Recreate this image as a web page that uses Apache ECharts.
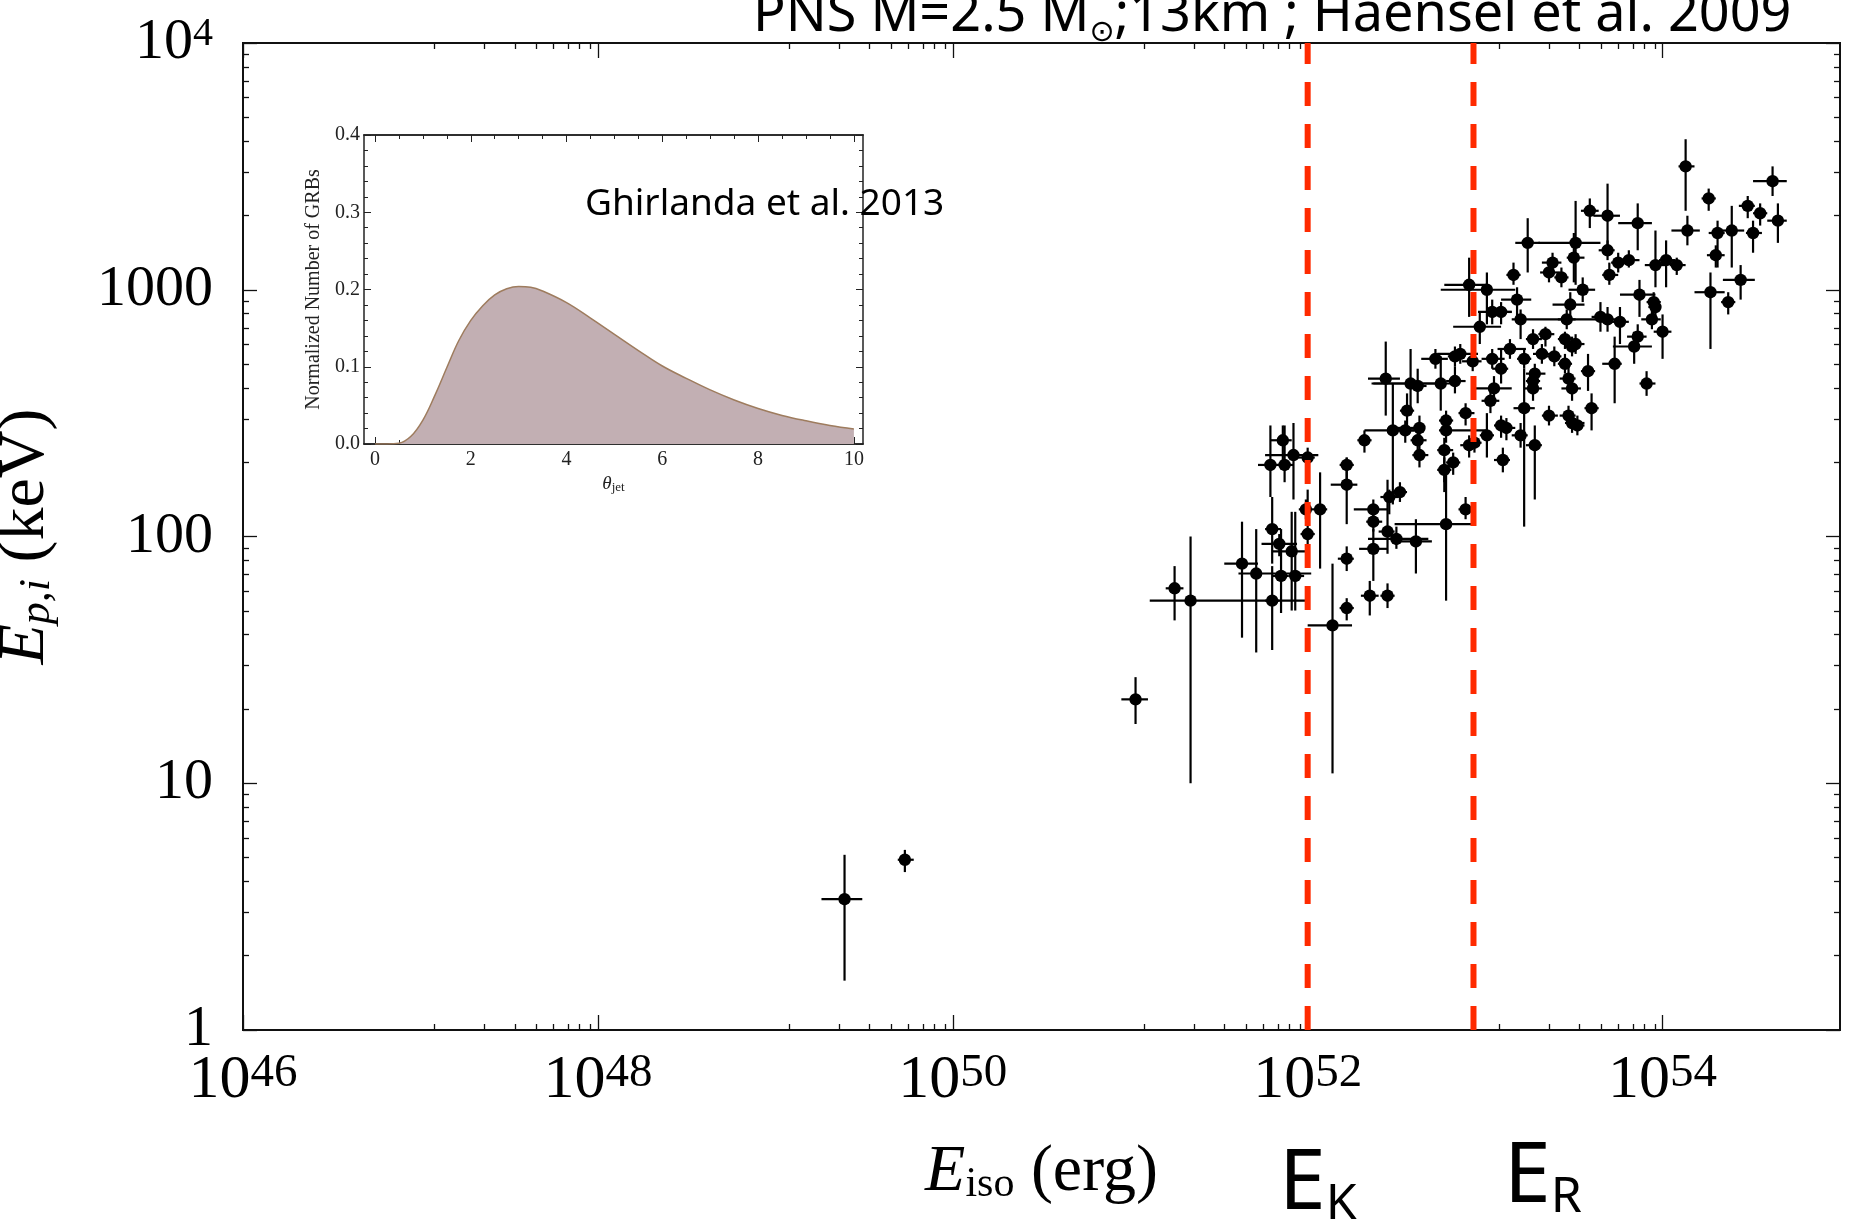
<!DOCTYPE html>
<html><head><meta charset="utf-8">
<script src="https://cdn.jsdelivr.net/npm/echarts@6/dist/echarts.min.js"></script>
<style>html,body{margin:0;padding:0;background:#fff}#c{width:1857px;height:1225px}</style>
</head><body><div id="c"></div>
<script>
// ---- GRB data (log10 values) ----
const logEiso = [54.13,54.62,54.26,54.48,54.55,54.65,53.59,53.69,53.86,54.14,
 54.31,54.39,54.51,53.24,53.51,53.69,54.30,53.38,53.50,53.75,
 53.81,53.96,54.02,54.08,53.16,53.36,53.43,53.70,54.44,52.91,
 53.01,53.18,53.55,53.48,54.27,54.37,53.87,53.95,53.96,53.04,
 53.09,53.20,53.46,53.65,53.69,53.76,53.94,52.97,54.00,53.86,
 53.84,53.27,53.34,53.45,53.51,53.49,53.14,52.86,53.32,53.39,
 52.72,52.93,53.04,53.58,53.73,53.09,53.28,53.27,52.44,52.58,
 52.62,52.75,52.83,53.91,53.05,53.27,53.47,53.49,53.22,53.36,
 53.47,53.49,53.52,53.60,53.03,52.56,52.89,52.78,52.32,52.48,
 52.55,52.63,52.78,53.01,53.09,53.12,53.20,52.62,52.63,52.77,
 52.82,52.77,52.91,53.10,53.28,51.86,51.79,51.87,51.92,52.00,
 52.22,52.22,51.99,52.07,51.80,52.00,51.84,51.91,52.37,52.46,
 52.52,52.37,52.45,52.50,52.61,52.78,52.89,52.37,52.22,51.63,
 51.71,51.80,51.85,51.93,52.35,52.45,52.22,52.14,51.25,51.34,
 51.03,49.39,49.73,53.22,53.45,52.94,52.83];
const logEp = [3.50,3.44,3.37,3.34,3.31,3.28,3.32,3.30,3.27,3.24,
 3.23,3.24,3.23,3.19,3.19,3.16,3.14,3.11,3.13,3.11,
 3.12,3.10,3.12,3.10,3.06,3.07,3.05,3.06,3.04,3.02,
 3.00,2.96,3.00,2.94,2.99,2.95,2.98,2.95,2.93,2.91,
 2.91,2.88,2.88,2.89,2.88,2.87,2.88,2.85,2.83,2.81,
 2.77,2.80,2.82,2.80,2.78,2.77,2.76,2.74,2.74,2.73,
 2.72,2.71,2.72,2.67,2.70,2.68,2.66,2.63,2.64,2.62,
 2.61,2.62,2.63,2.62,2.60,2.60,2.64,2.60,2.52,2.49,
 2.49,2.46,2.45,2.52,2.55,2.51,2.50,2.47,2.39,2.43,
 2.43,2.44,2.43,2.41,2.45,2.44,2.41,2.39,2.33,2.35,
 2.30,2.27,2.37,2.31,2.37,2.39,2.29,2.29,2.33,2.32,
 2.29,2.21,2.11,2.11,2.03,2.01,1.97,1.94,2.11,2.16,
 2.18,2.06,2.02,1.99,1.98,2.05,2.11,1.95,1.91,1.89,
 1.85,1.74,1.84,1.84,1.76,1.76,1.71,1.64,1.79,1.74,
 1.34,0.53,0.69,2.72,2.70,2.38,2.73];
const logEisoLo = [54.09,54.51,54.22,54.43,54.51,54.59,53.54,53.61,53.75,54.05,
 54.26,54.33,54.47,53.17,53.30,53.64,54.25,53.32,53.46,53.71,
 53.77,53.90,53.98,54.04,53.12,53.31,53.39,53.66,54.34,52.77,
 52.75,53.09,53.47,53.38,54.18,54.33,53.76,53.91,53.92,52.96,
 53.02,53.15,53.41,53.60,53.64,53.71,53.88,52.82,53.95,53.80,
 53.72,53.23,53.30,53.41,53.47,53.45,53.07,52.73,53.27,53.34,
 52.64,52.87,52.98,53.54,53.66,53.04,53.23,53.23,52.34,52.36,
 52.58,52.37,52.78,53.87,52.94,53.22,53.42,53.43,53.16,53.32,
 53.42,53.45,53.47,53.56,52.98,52.52,52.85,52.74,52.28,52.32,
 52.50,52.49,52.74,52.97,53.05,53.08,53.15,52.58,52.59,52.73,
 52.78,52.73,52.86,53.05,53.23,51.79,51.72,51.83,51.76,51.92,
 52.18,52.13,51.95,52.03,51.76,51.96,51.74,51.80,52.26,52.41,
 52.48,52.33,52.40,52.34,52.49,52.49,52.85,52.29,52.17,51.53,
 51.61,51.76,51.80,51.89,52.30,52.41,52.18,52.00,51.20,51.11,
 50.95,49.26,49.69,53.18,53.41,52.90,52.79];
const logEisoHi = [54.18,54.70,54.30,54.52,54.59,54.70,53.64,53.76,53.94,54.21,
 54.35,54.46,54.56,53.31,53.65,53.73,54.35,53.43,53.56,53.80,
 53.87,54.02,54.07,54.13,53.20,53.42,53.47,53.75,54.52,53.01,
 53.17,53.26,53.62,53.56,54.35,54.41,53.96,53.99,53.99,53.15,
 53.15,53.64,53.51,53.71,53.75,53.81,53.99,53.09,54.05,53.91,
 53.94,53.32,53.39,53.49,53.56,53.53,53.23,52.96,53.38,53.43,
 52.79,52.98,53.11,53.62,53.77,53.13,53.34,53.31,52.52,52.74,
 52.67,52.83,52.89,53.96,53.15,53.32,53.51,53.54,53.28,53.41,
 53.51,53.56,53.56,53.64,53.08,52.60,52.94,52.82,52.36,52.63,
 52.60,52.66,53.01,53.05,53.13,53.17,53.24,52.67,52.68,52.82,
 52.86,52.81,52.97,53.14,53.32,51.91,51.88,51.92,52.06,52.04,
 52.26,52.28,52.03,52.11,51.85,52.04,51.94,52.00,52.45,52.51,
 52.56,52.42,52.49,52.68,52.70,52.93,52.93,52.45,52.26,51.72,
 52.02,51.84,51.89,51.98,52.40,52.49,52.26,52.25,51.30,51.99,
 51.10,49.49,49.78,53.26,53.49,52.98,52.88];
const logEpLo = [3.32,3.38,3.32,3.29,3.26,3.19,3.25,3.16,3.16,3.18,
 3.09,3.09,3.15,3.07,3.02,3.12,3.09,3.07,3.03,3.07,
 3.09,3.01,3.01,3.06,3.02,3.03,3.01,3.02,2.96,2.89,
 2.86,2.89,2.95,2.89,2.76,2.90,2.89,2.90,2.88,2.86,
 2.86,2.80,2.84,2.83,2.83,2.78,2.84,2.78,2.72,2.76,
 2.70,2.76,2.77,2.76,2.74,2.73,2.72,2.70,2.70,2.69,
 2.68,2.67,2.68,2.59,2.54,2.62,2.62,2.59,2.49,2.49,
 2.54,2.51,2.58,2.57,2.54,2.55,2.59,2.55,2.04,2.45,
 2.45,2.42,2.41,2.43,2.50,2.45,2.45,2.42,2.34,2.13,
 2.38,2.39,2.38,2.32,2.40,2.39,2.36,2.34,2.28,2.18,
 2.25,2.22,2.32,2.26,2.15,2.30,2.16,2.22,2.15,2.28,
 2.22,2.05,2.07,1.87,1.89,1.88,1.92,1.70,2.07,2.09,
 2.14,2.02,1.93,1.95,1.85,1.74,2.07,1.82,1.86,1.59,
 1.53,1.54,1.69,1.70,1.68,1.71,1.66,1.04,1.66,1.00,
 1.24,0.20,0.64,2.68,2.66,2.34,2.69];
const logEpHi = [3.61,3.50,3.41,3.38,3.35,3.35,3.37,3.43,3.35,3.30,
 3.28,3.34,3.28,3.29,3.36,3.20,3.18,3.15,3.23,3.15,
 3.16,3.24,3.20,3.13,3.11,3.11,3.09,3.11,3.10,3.13,
 3.07,3.01,3.05,2.99,3.07,2.99,3.04,2.99,2.97,2.96,
 2.95,2.92,2.92,2.95,2.93,2.93,2.93,2.91,2.90,2.86,
 2.83,2.84,2.85,2.83,2.82,2.81,2.80,2.78,2.78,2.77,
 2.76,2.74,2.76,2.74,2.81,2.76,2.70,2.68,2.79,2.76,
 2.68,2.73,2.69,2.67,2.65,2.63,2.69,2.63,2.68,2.53,
 2.53,2.50,2.49,2.58,2.59,2.58,2.54,2.51,2.43,2.62,
 2.47,2.49,2.49,2.50,2.49,2.48,2.46,2.45,2.38,2.40,
 2.34,2.32,2.41,2.36,2.45,2.45,2.45,2.45,2.46,2.36,
 2.32,2.32,2.15,2.26,2.16,2.19,2.01,2.10,2.15,2.19,
 2.22,2.11,2.23,2.04,2.07,2.27,2.16,2.03,1.96,2.06,
 2.03,1.88,2.03,2.10,1.82,1.81,1.75,1.89,1.88,2.00,
 1.43,0.71,0.73,2.76,2.74,2.43,2.77];

// reference energies (erg): E_K and E_R
const refEnergies = [1e52, 8.6e52];

// inset: jet opening angle distribution
const thetaJet = [0,0.25,0.5,0.75,1,1.25,1.5,1.75,2,2.25,2.5,2.75,3,3.25,3.5,4,4.5,5,5.5,6,6.5,7,7.5,8,8.5,9,9.5,10];
const grbFraction = [0,0,0.001,0.010,0.031,0.063,0.099,0.134,0.160,0.179,0.193,0.201,0.204,0.203,0.198,0.183,0.163,0.142,0.121,0.101,0.085,0.070,0.057,0.046,0.037,0.030,0.024,0.0195];

// tick labels / tick positions
const xMajorExp = [46,48,50,52,54];
const xMinorMant = [1.2,2.3,3.4,4.5,5.6,6.8,7.9,9.1];
const xMinorExp = [47,49,51,53];
const yMajor = [1,10,100,1000,10000];
const yMinorMant = [2,3,4,5,6,7,8,9];
const insetXMajor = [0,2,4,6,8,10];

const xMajor = xMajorExp.map(e => Math.pow(10, e));
const xMinor = [];
xMinorExp.forEach(e => xMinorMant.forEach(m => xMinor.push(m * Math.pow(10, e))));
const yMinor = [];
[0,1,2,3].forEach(e => yMinorMant.forEach(m => yMinor.push(m * Math.pow(10, e))));
const insetXMinor = [];
for (let i = 0; i <= 20; i++) insetXMinor.push(i * 0.5);

const grbData = logEiso.map((lx, i) => [
  Math.pow(10, lx), Math.pow(10, logEp[i]),
  Math.pow(10, logEisoLo[i]), Math.pow(10, logEisoHi[i]),
  Math.pow(10, logEpLo[i]), Math.pow(10, logEpHi[i])
]);
const insetData = thetaJet.map((t, i) => [t, grbFraction[i]]);

const SERIF = 'Liberation Serif, Times New Roman, serif';
const SANS = 'Noto Sans, DejaVu Sans, sans-serif';

function logX(pos, ticks, len, withLabels) {
  return {
    type: 'log', logBase: 10, gridIndex: 0, position: pos, min: 1e46, max: 1e55,
    axisLine: {show: true, onZero: false, lineStyle: {color: '#111', width: 2}},
    axisTick: {show: true, inside: true, length: len, customValues: ticks, lineStyle: {color: '#111', width: 1.3}},
    axisLabel: withLabels ? {
      show: true, customValues: xMajor, margin: 20,
      formatter: v => '{b|10}{s|' + Math.round(Math.log10(v)) + '}',
      rich: {
        b: {fontFamily: SERIF, fontSize: 62, lineHeight: 62, color: '#000'},
        s: {fontFamily: SERIF, fontSize: 47, lineHeight: 34, verticalAlign: 'top', color: '#000'}
      }
    } : {show: false},
    splitLine: {show: false}, minorTick: {show: false}
  };
}
function logY(pos, ticks, len, withLabels) {
  return {
    type: 'log', logBase: 10, gridIndex: 0, position: pos, min: 1, max: 1e4,
    axisLine: {show: true, onZero: false, lineStyle: {color: '#111', width: 2}},
    axisTick: {show: true, inside: true, length: len, customValues: ticks, lineStyle: {color: '#111', width: 1.3}},
    axisLabel: withLabels ? {
      show: true, customValues: yMajor, margin: 30,
      formatter: v => v >= 9999 ? '{b|10}{s|4}' : '{b|' + Math.round(v) + '}',
      rich: {
        b: {fontFamily: SERIF, fontSize: 58, lineHeight: 58, color: '#000'},
        s: {fontFamily: SERIF, fontSize: 40, lineHeight: 30, verticalAlign: 'top', color: '#000'}
      }
    } : {show: false},
    splitLine: {show: false}, minorTick: {show: false}
  };
}
function insetX(pos, ticks, len, withLabels) {
  return {
    type: 'value', gridIndex: 1, position: pos, min: -0.23, max: 10.19,
    axisLine: {show: true, onZero: false, lineStyle: {color: '#222', width: 1.5}},
    axisTick: {show: true, inside: true, length: len, customValues: ticks, lineStyle: {color: '#222', width: 1}},
    axisLabel: withLabels ? {show: true, customValues: insetXMajor, margin: 6, fontFamily: SERIF, fontSize: 20, color: '#222'} : {show: false},
    splitLine: {show: false},
    name: withLabels ? '{t|θ}{s|jet}' : '', nameLocation: 'middle', nameGap: 30,
    nameTextStyle: {rich: {
      t: {fontFamily: SERIF, fontStyle: 'italic', fontSize: 19, color: '#222', lineHeight: 20},
      s: {fontFamily: SERIF, fontSize: 13, color: '#222', verticalAlign: 'bottom', lineHeight: 8}
    }}
  };
}
function insetY(pos, withLabels) {
  return {
    type: 'value', gridIndex: 1, position: pos, min: 0, max: 0.4, interval: 0.1,
    axisLine: {show: true, onZero: false, lineStyle: {color: '#222', width: 1.5}},
    axisTick: {show: true, inside: true, length: 7, lineStyle: {color: '#222', width: 1}},
    minorTick: {show: true, splitNumber: 5, length: 4, lineStyle: {color: '#222', width: 1}},
    axisLabel: withLabels ? {show: true, margin: 4, fontFamily: SERIF, fontSize: 20, color: '#222', formatter: v => v.toFixed(1)} : {show: false},
    splitLine: {show: false},
    name: withLabels ? 'Normalized Number of GRBs' : '', nameLocation: 'middle', nameGap: 40,
    nameTextStyle: {fontFamily: SERIF, fontSize: 20, color: '#222'}
  };
}

const chart = echarts.init(document.getElementById('c'), null, {renderer: 'canvas'});
const xMain = logX('bottom', xMajor, 15, true);
xMain.name = '{e|E}{s|iso}{n| (erg)}';
xMain.nameLocation = 'middle';
xMain.nameGap = 110;
xMain.nameTextStyle = {rich: {
  e: {fontFamily: SERIF, fontStyle: 'italic', fontSize: 66, lineHeight: 66, color: '#000'},
  s: {fontFamily: SERIF, fontSize: 42, lineHeight: 22, verticalAlign: 'bottom', color: '#000'},
  n: {fontFamily: SERIF, fontSize: 66, lineHeight: 66, color: '#000'}
}};
const yMain = logY('left', yMajor, 14, true);
yMain.name = '{e|E}{s|p,i}{n| (keV)}';
yMain.nameLocation = 'middle';
yMain.nameGap = 184;
yMain.nameTextStyle = {rich: {
  e: {fontFamily: SERIF, fontStyle: 'italic', fontSize: 66, lineHeight: 66, color: '#000'},
  s: {fontFamily: SERIF, fontStyle: 'italic', fontSize: 44, lineHeight: 22, verticalAlign: 'bottom', color: '#000'},
  n: {fontFamily: SERIF, fontSize: 66, lineHeight: 66, color: '#000'}
}};

const option = {
  animation: false,
  backgroundColor: '#fff',
  grid: [
    {left: 243, top: 43, width: 1597, height: 987, outerBoundsMode: 'none'},
    {left: 364, top: 135, width: 499, height: 309, outerBoundsMode: 'none'}
  ],
  xAxis: [
    xMain,
    logX('bottom', xMinor, 6, false),
    logX('top', xMajor, 15, false),
    logX('top', xMinor, 6, false),
    insetX('bottom', insetXMajor, 7, true),
    insetX('bottom', insetXMinor, 4, false),
    insetX('top', insetXMajor, 7, false),
    insetX('top', insetXMinor, 4, false)
  ],
  yAxis: [
    yMain,
    logY('left', yMinor, 6, false),
    logY('right', yMajor, 14, false),
    logY('right', yMinor, 6, false),
    insetY('left', true),
    insetY('right', false)
  ],
  graphic: [
    {type: 'text', left: 753, top: -11, z: 10, style: {
      text: '{a|PNS M=2.5 M}{s|⊙}{a|;13km ; Haensel et al. 2009}',
      rich: {
        a: {fontFamily: SANS, fontSize: 54, lineHeight: 64, fill: '#000'},
        s: {fontFamily: 'DejaVu Sans', fontSize: 30, lineHeight: 16, verticalAlign: 'bottom', fill: '#000'}
      }}},
    {type: 'text', left: 585, top: 186, z: 10, style: {text: 'Ghirlanda et al. 2013', fontFamily: SANS, fontSize: 37, fill: '#000'}},
    {type: 'text', left: 1279, top: 1143, z: 10, style: {
      text: '{e|E}{k|K}', rich: {
        e: {fontFamily: SANS, fontSize: 84, lineHeight: 90, fill: '#000'},
        k: {fontFamily: SANS, fontSize: 50, lineHeight: 43, verticalAlign: 'bottom', fill: '#000'}
      }}},
    {type: 'text', left: 1504, top: 1136, z: 10, style: {
      text: '{e|E}{k|R}', rich: {
        e: {fontFamily: SANS, fontSize: 84, lineHeight: 90, fill: '#000'},
        k: {fontFamily: SANS, fontSize: 50, lineHeight: 43, verticalAlign: 'bottom', fill: '#000'}
      }}}
  ],
  series: [
    {
      name: 'GRBs', type: 'custom', xAxisIndex: 0, yAxisIndex: 0, z: 3,
      data: grbData, encode: {x: 0, y: 1},
      renderItem: (params, api) => {
        const x = api.value(0), y = api.value(1);
        const c = api.coord([x, y]);
        const l = api.coord([api.value(2), y]), r = api.coord([api.value(3), y]);
        const b = api.coord([x, api.value(4)]), t = api.coord([x, api.value(5)]);
        return {type: 'group', children: [
          {type: 'line', shape: {x1: l[0], y1: c[1], x2: r[0], y2: c[1]}, style: {stroke: '#000', lineWidth: 2.2}},
          {type: 'line', shape: {x1: c[0], y1: b[1], x2: c[0], y2: t[1]}, style: {stroke: '#000', lineWidth: 2.2}},
          {type: 'circle', shape: {cx: c[0], cy: c[1], r: 6.2}, style: {fill: '#000'}}
        ]};
      }
    },
    {
      name: 'E lines', type: 'custom', xAxisIndex: 0, yAxisIndex: 0, z: 5,
      data: refEnergies.map(e => [e, 1, 1e4]), encode: {x: 0, y: 1},
      renderItem: (params, api) => {
        const b = api.coord([api.value(0), api.value(1)]);
        const t = api.coord([api.value(0), api.value(2)]);
        return {type: 'line', shape: {x1: b[0], y1: b[1], x2: t[0], y2: t[1]},
          style: {stroke: '#ff2a00', lineWidth: 6, lineDash: [24, 18], lineCap: 'butt'}};
      }
    },
    {
      name: 'theta_jet', type: 'line', xAxisIndex: 4, yAxisIndex: 4, z: 4,
      data: insetData, smooth: 0.4, symbol: 'none',
      lineStyle: {color: '#9e7c5e', width: 1.5},
      areaStyle: {color: '#c2afb3', opacity: 1}
    }
  ]
};
chart.setOption(option);
</script>
</body></html>
